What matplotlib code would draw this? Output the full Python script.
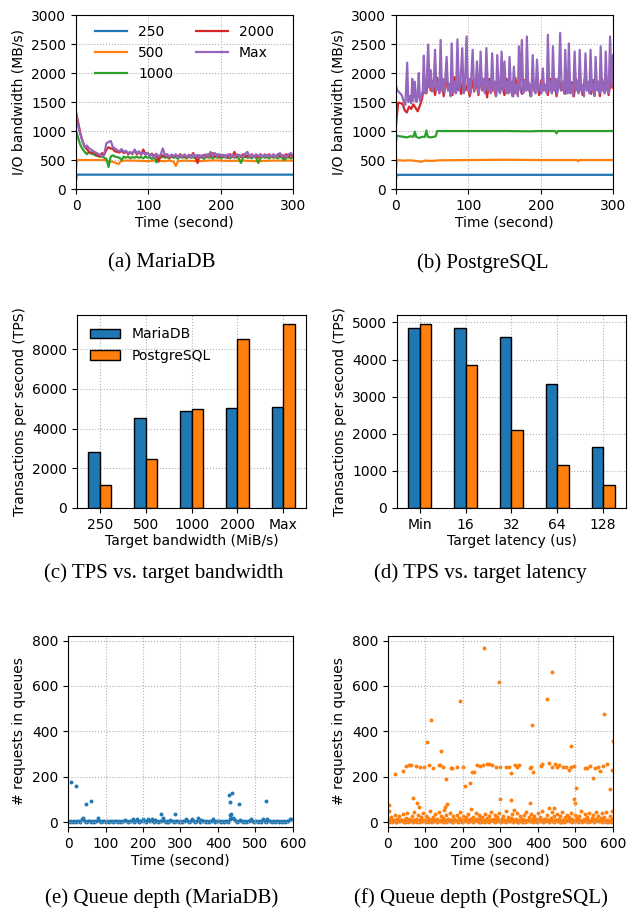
import numpy as np
import matplotlib.pyplot as plt

# --- data: (a) MariaDB I/O bandwidth, sampled every 3 s ---
ma_t = list(range(0, 301, 3))
ma_250_t = [0, 1, 100, 200, 300]
ma_250 = [150, 248, 248, 248, 248]
ma_500_t = [0, 1, 20, 40, 45, 50, 55, 59, 62, 65, 80, 100, 110, 120, 130, 135, 138, 141, 150, 170,
            190, 210, 230, 250, 270, 300]
ma_500 = [350, 500, 500, 500, 480, 470, 450, 430, 480, 490, 490, 480, 495, 480, 490, 470, 400, 480, 490, 480,
          495, 485, 490, 480, 490, 490]
ma_1000 = [1000, 880, 760, 690, 640, 600, 640, 610, 600, 580,
           570, 560, 560, 540, 520, 380, 560, 580, 560, 550,
           540, 500, 560, 540, 560, 530, 550, 540, 560, 540,
           550, 530, 560, 540, 550, 520, 560, 460, 550, 540,
           560, 540, 550, 530, 560, 540, 550, 520, 560, 540,
           550, 530, 560, 540, 550, 530, 560, 540, 550, 520,
           560, 540, 550, 530, 560, 540, 550, 530, 560, 540,
           550, 530, 560, 540, 550, 530, 450, 540, 560, 540,
           550, 530, 560, 540, 450, 530, 560, 540, 550, 530,
           560, 540, 550, 530, 560, 540, 500, 540, 550, 530,
           550]
ma_2000 = [1330, 1150, 960, 830, 730, 690, 640, 620, 650, 600,
           580, 560, 620, 590, 680, 720, 700, 690, 650, 640,
           630, 660, 620, 650, 600, 630, 610, 670, 600, 640,
           590, 680, 600, 620, 580, 610, 570, 600, 470, 590,
           580, 560, 600, 530, 590, 560, 580, 550, 600, 560,
           580, 540, 590, 560, 620, 560, 450, 580, 550, 590,
           560, 600, 570, 620, 560, 600, 550, 590, 560, 580,
           540, 600, 560, 640, 560, 590, 550, 600, 560, 580,
           550, 600, 560, 580, 540, 600, 560, 590, 570, 600,
           550, 590, 560, 600, 570, 580, 550, 600, 560, 590,
           560]
ma_max = [1300, 1080, 940, 820, 720, 750, 700, 680, 650, 630,
          610, 590, 570, 600, 790, 810, 830, 720, 700, 670,
          650, 690, 640, 660, 620, 640, 600, 680, 620, 650,
          600, 630, 590, 620, 570, 600, 540, 610, 560, 590,
          700, 580, 600, 550, 590, 570, 600, 540, 580, 560,
          600, 550, 580, 540, 600, 560, 590, 540, 580, 550,
          600, 560, 640, 570, 620, 560, 600, 570, 590, 550,
          600, 560, 590, 550, 600, 570, 580, 560, 610, 640,
          560, 590, 550, 600, 570, 590, 550, 600, 570, 580,
          560, 600, 550, 590, 620, 560, 590, 550, 600, 620,
          580]

# --- data: (b) PostgreSQL I/O bandwidth ---
pg_t = list(range(0, 301, 3))
pg_250_t = [0, 1, 100, 200, 300]
pg_250 = [180, 245, 245, 245, 245]
pg_500_t = [0, 1, 10, 20, 30, 35, 40, 50, 60, 100, 150, 200, 250, 252, 254, 300]
pg_500 = [350, 500, 490, 495, 480, 470, 490, 485, 495, 500, 505, 500, 500, 480, 500, 500]
pg_1000_t = [0, 1, 5, 10, 15, 20, 24, 26, 28, 32, 36, 40, 42, 44, 48, 52, 55, 57, 100, 150,
             185, 200, 220, 222, 224, 250, 290, 300]
pg_1000 = [820, 920, 910, 900, 890, 910, 900, 990, 900, 880, 900, 900, 1010, 900, 890, 900, 910, 1000, 1000, 1000,
           995, 1000, 1000, 960, 1000, 1000, 1000, 1000]
pg_2000 = [1100, 1490, 1480, 1470, 1360, 1320, 1420, 1380, 1460, 1400,
           1340, 1440, 1550, 1800, 1650, 1900, 1700, 1860, 1620, 1920,
           1680, 1850, 1600, 1900, 1700, 1820, 1620, 1930, 1700, 1850,
           1640, 1920, 1700, 1800, 1600, 1880, 1680, 1850, 1620, 1900,
           1700, 1840, 1580, 1900, 1680, 1820, 1600, 1880, 1700, 1760,
           1620, 1900, 1680, 1840, 1600, 1920, 1700, 1800, 1640, 1880,
           1700, 1850, 1600, 1900, 1680, 1820, 1620, 1880, 1700, 1780,
           1620, 1900, 1680, 1850, 1600, 1920, 1700, 1820, 1640, 1880,
           1700, 1840, 1600, 1900, 1680, 1860, 1620, 1900, 1700, 1800,
           1640, 1880, 1700, 1850, 1600, 1900, 1680, 1820, 1620, 1860,
           1750]
pg_max_pts = [(0, 1780), (2, 1700), (5, 1660), (8, 1620), (11, 1500), (13, 1450), (15.5, 2180), (17, 1500),
              (19, 1600), (21, 1480), (22.5, 1900), (24, 1520), (26, 1850), (28, 1500), (30, 1600),
              (31.5, 2000), (33, 1520), (35, 1600), (37, 1700), (38.5, 2300), (40, 1650), (42, 1700),
              (44.5, 2490), (46.5, 1750), (48, 2050), (50, 1680), (52, 1750), (54, 2400), (56, 1700),
              (58, 1850), (60, 1650), (61.7, 2570), (63.5, 1700), (65, 1900), (67, 1650), (68.5, 1950),
              (70, 2280), (72, 1700), (74, 1780), (75.5, 1600), (77, 2510), (79, 1650), (81, 1850),
              (83, 1650), (85, 2580), (87, 1700), (89, 1800), (91.6, 2430), (93.5, 1650), (95.5, 1800),
              (97.6, 2630), (99.5, 1700), (101, 1900), (103, 1650), (106, 2400), (108, 1700), (110, 1750),
              (112, 2200), (114, 1650), (115.5, 1800), (117, 2370), (119, 1700), (121, 1900), (123, 1650),
              (125, 2430), (127, 1700), (129, 1850), (131, 1650), (133, 2340), (135, 1700), (137, 1850),
              (138.5, 1600), (140, 2310), (142, 1700), (144, 1650), (146, 2370), (148, 1700), (150, 2200),
              (152, 1650), (154, 1850), (155.5, 1650), (157, 2280), (159, 1700), (161, 1600), (163, 2110),
              (165, 1650), (167, 1800), (168.5, 1600), (170, 2460), (172, 1700), (174, 2570), (176, 1650),
              (178, 1850), (179.5, 1700), (181, 2630), (183, 1700), (185, 1800), (187, 1600), (189, 2310),
              (191, 1700), (193, 1650), (195, 2230), (197, 1700), (199, 1800), (201, 1650), (203, 2080),
              (205, 1700), (207, 1800), (208.5, 1650), (210, 2660), (212, 1700), (214, 1850), (215.5, 1650),
              (217, 2460), (219, 1700), (221, 1900), (223, 1650), (225, 1800), (227, 2690), (229, 1700),
              (231, 1850), (232.5, 1650), (234, 2400), (236, 1700), (237.5, 1650), (239, 2510), (241, 1650),
              (243, 1800), (245, 1600), (247, 2370), (249, 1700), (251, 1850), (252.5, 1650), (254, 2400),
              (256, 1700), (258, 1800), (260, 1600), (262, 2340), (264, 1700), (266, 1850), (267.5, 1650),
              (269, 2400), (271, 1700), (273, 1800), (274.5, 1600), (276, 2280), (278, 1700), (280, 1850),
              (281.5, 1650), (283, 2460), (285, 1700), (287, 1800), (288.5, 1650), (290, 2370), (292, 1700),
              (294, 1650), (296, 2630), (298, 1750), (300, 2310)]

# --- data: (c), (d) TPS bars ---
bw_labels = ['250', '500', '1000', '2000', 'Max']
bw_maria = [2800, 4530, 4880, 5030, 5100]
bw_pg = [1160, 2470, 4980, 8490, 9260]
lat_labels = ['Min', '16', '32', '64', '128']
lat_maria = [4860, 4850, 4605, 3335, 1655]
lat_pg = [4955, 3860, 2105, 1160, 620]

# --- data: (e) MariaDB queue depth, base samples every 4 s + outliers ---
qm_t = list(range(0, 600, 4))
qm_base = [3, 2, 5, 1, 4, 2, 6, 3, 1, 15,
           12, 4, 2, 5, 3, 1, 4, 2, 6, 3,
           16, 4, 2, 3, 5, 1, 6, 2, 4, 3,
           2, 5, 3, 1, 4, 2, 6, 3, 10, 4,
           2, 5, 3, 12, 1, 4, 13, 2, 5, 3,
           14, 4, 2, 12, 5, 3, 14, 2, 10, 3,
           2, 4, 5, 16, 3, 2, 4, 1, 10, 3,
           5, 2, 4, 3, 1, 6, 2, 4, 3, 12,
           5, 2, 4, 15, 3, 1, 5, 16, 2, 11,
           3, 5, 2, 4, 1, 3, 6, 15, 2, 4,
           3, 5, 2, 4, 1, 3, 6, 2, 14, 18,
           16, 12, 4, 2, 5, 8, 3, 1, 4, 2,
           6, 3, 12, 4, 2, 5, 3, 1, 4, 2,
           14, 3, 2, 12, 5, 3, 1, 4, 2, 6,
           3, 2, 5, 1, 4, 2, 6, 3, 12, 15]
qm_out_t = [9, 20, 48, 61, 39, 249, 285, 430, 432, 438, 433, 436, 455, 527]
qm_out = [177, 158, 81, 93, 18, 35, 35, 118, 87, 130, 29, 37, 80, 94]

# --- data: (f) PostgreSQL queue depth ---
qp_t1 = list(range(0, 600, 3))
qp_low1 = [50, 12, 5, 22, 3, 8, 30, 2, 15, 6,
           28, 4, 10, 35, 7, 2, 18, 40, 5, 12,
           3, 25, 8, 45, 6, 14, 2, 30, 9, 20,
           4, 38, 11, 6, 25, 3, 16, 48, 7, 2,
           22, 9, 35, 5, 13, 42, 3, 28, 8, 18,
           55, 6, 30, 12, 4, 38, 9, 2, 25, 14,
           7, 32, 3, 18, 45, 6, 11, 28, 4, 20,
           9, 36, 5, 14, 58, 3, 24, 8, 40, 12,
           4, 30, 16, 2, 22, 10, 35, 6, 18, 3,
           26, 8, 42, 5, 12, 30, 3, 20, 9, 38,
           6, 15, 28, 4, 10, 48, 7, 22, 3, 18,
           35, 9, 55, 5, 14, 40, 2, 25, 8, 12,
           3, 30, 11, 45, 6, 20, 4, 35, 9, 16,
           28, 5, 12, 38, 3, 22, 8, 50, 6, 14,
           4, 32, 10, 60, 7, 18, 42, 3, 25, 9,
           36, 6, 15, 28, 2, 45, 11, 20, 5, 30,
           8, 24, 3, 40, 12, 6, 32, 9, 18, 4,
           26, 10, 48, 5, 14, 35, 3, 22, 8, 40,
           6, 18, 30, 4, 12, 42, 7, 25, 3, 16,
           38, 9, 20, 5, 45, 11, 2, 28, 6, 15]
qp_t2 = list(range(2, 600, 4))
qp_low2 = [2, 6, 1, 9, 4, 0, 7, 3, 10, 5,
           1, 8, 3, 0, 6, 11, 2, 5, 9, 4,
           7, 1, 10, 3, 6, 0, 8, 2, 5, 12,
           3, 9, 1, 6, 4, 10, 0, 7, 2, 8,
           5, 11, 3, 1, 9, 6, 2, 8, 4, 0,
           10, 3, 7, 1, 5, 12, 2, 6, 9, 4,
           0, 8, 3, 6, 1, 10, 5, 2, 7, 11,
           4, 1, 9, 3, 6, 0, 8, 5, 2, 10,
           6, 3, 12, 1, 7, 4, 0, 9, 5, 2,
           8, 1, 5, 10, 3, 6, 2, 11, 4, 0,
           7, 3, 9, 1, 6, 12, 4, 2, 8, 5,
           0, 10, 3, 7, 1, 5, 9, 2, 6, 11,
           4, 8, 1, 6, 3, 10, 0, 7, 5, 2,
           9, 3, 11, 1, 6, 4, 8, 2, 12, 5,
           3, 7, 0, 9, 5, 1, 10, 6, 2, 8]
qp_mid_t = [20, 39, 48, 55, 61, 74, 86, 97, 110, 121, 135, 138, 147, 154, 167, 172, 185, 199, 206, 219,
            223, 230, 237, 246, 254, 263, 269, 277, 287, 300, 316, 323, 327, 339, 345, 349, 379, 382, 387, 407,
            410, 430, 438, 445, 450, 457, 467, 476, 482, 487, 495, 501, 526, 531, 540, 547, 553, 560, 566, 574,
            584, 592, 597]
qp_mid = [211, 227, 247, 250, 250, 247, 244, 243, 253, 237, 250, 253, 241, 190, 237, 240, 243, 243, 160, 174,
          222, 222, 253, 246, 250, 255, 256, 252, 243, 243, 241, 243, 218, 253, 243, 252, 239, 243, 222, 246,
          255, 261, 243, 255, 243, 253, 243, 243, 228, 243, 247, 150, 240, 240, 249, 196, 236, 243, 227, 246,
          255, 146, 228]
qp_out_t = [4, 2, 104, 116, 142, 193, 256, 296, 298, 328, 385, 425, 437, 489, 496, 500, 576, 600, 68, 77,
            83, 157, 153, 378, 442, 597]
qp_out = [77, 50, 354, 451, 315, 532, 769, 616, 103, 96, 429, 542, 660, 337, 103, 85, 477, 358, 106, 84,
          66, 81, 66, 84, 60, 48]

plt.rcParams['font.size'] = 10
grid_kw = dict(linestyle=':', color='#b0b0b0', linewidth=0.8)
cap_kw = dict(family='Liberation Serif', fontsize=15, ha='center', va='center')

fig = plt.figure(figsize=(6.35, 9.11), dpi=100)

# --- (a) and (b): bandwidth over time ---
ax_a = fig.add_axes([0.1197, 0.7925, 0.3417, 0.191])
ax_b = fig.add_axes([0.6236, 0.7925, 0.3417, 0.191])

ax_a.plot(ma_250_t, ma_250, color='C0', lw=1.6, label='250')
ax_a.plot(ma_500_t, ma_500, color='C1', lw=1.6, label='500')
ax_a.plot(ma_t, ma_1000, color='C2', lw=1.6, label='1000')
ax_a.plot(ma_t, ma_2000, color='C3', lw=1.6, label='2000')
ax_a.plot(ma_t, ma_max, color='C4', lw=1.6, label='Max')
ax_a.legend(ncol=2, loc='upper center', frameon=False, handlelength=2.3,
            columnspacing=1.6, labelspacing=0.5, borderaxespad=0.3)

pg_max_t = [p[0] for p in pg_max_pts]
pg_max_v = [p[1] for p in pg_max_pts]
ax_b.plot(pg_250_t, pg_250, color='C0', lw=1.6)
ax_b.plot(pg_500_t, pg_500, color='C1', lw=1.6)
ax_b.plot(pg_1000_t, pg_1000, color='C2', lw=1.6)
ax_b.plot(pg_t, pg_2000, color='C3', lw=1.6)
ax_b.plot(pg_max_t, pg_max_v, color='C4', lw=1.6)

for ax in (ax_a, ax_b):
    ax.set_xlim(0, 300)
    ax.set_ylim(0, 3000)
    ax.set_xticks([0, 100, 200, 300])
    ax.set_yticks(range(0, 3001, 500))
    ax.grid(**grid_kw)
    ax.set_xlabel('Time (second)', labelpad=2)
    ax.set_ylabel('I/O bandwidth (MB/s)')

fig.text(0.255, 0.7113, '(a) MariaDB', **cap_kw)
fig.text(0.761, 0.7113, '(b) PostgreSQL', **cap_kw)

# --- (c) and (d): TPS bars ---
ax_c = fig.add_axes([0.1213, 0.4424, 0.3606, 0.2119])
ax_d = fig.add_axes([0.6252, 0.4424, 0.3606, 0.2119])
w = 0.25
x = np.arange(len(bw_labels))
ax_c.bar(x - w / 2, bw_maria, w, color='C0', edgecolor='black', lw=1, label='MariaDB')
ax_c.bar(x + w / 2, bw_pg, w, color='C1', edgecolor='black', lw=1, label='PostgreSQL')
ax_c.set_xticks(x)
ax_c.set_xticklabels(bw_labels)
ax_c.set_yticks(range(0, 8001, 2000))
ax_c.set_xlabel('Target bandwidth (MiB/s)', labelpad=2)
ax_c.legend(loc='upper left', frameon=False, handlelength=2.2, labelspacing=0.55)

ax_d.bar(x - w / 2, lat_maria, w, color='C0', edgecolor='black', lw=1)
ax_d.bar(x + w / 2, lat_pg, w, color='C1', edgecolor='black', lw=1)
ax_d.set_xticks(x)
ax_d.set_xticklabels(lat_labels)
ax_d.set_yticks(range(0, 5001, 1000))
ax_d.set_xlabel('Target latency (us)', labelpad=2)

for ax in (ax_c, ax_d):
    ax.set_xlim(-0.5, 4.5)
    ax.set_axisbelow(True)
    ax.grid(**grid_kw)
    ax.set_ylabel('Transactions per second (TPS)')

fig.text(0.257, 0.371, '(c) TPS vs. target bandwidth', **cap_kw)
fig.text(0.757, 0.371, '(d) TPS vs. target latency', **cap_kw)

# --- (e) and (f): queue depth scatter ---
ax_e = fig.add_axes([0.1071, 0.0922, 0.3543, 0.2097])
ax_f = fig.add_axes([0.611, 0.0922, 0.3543, 0.2097])
ax_e.scatter(qm_t, qm_base, s=8, color='C0', linewidths=0)
ax_e.scatter(qm_out_t, qm_out, s=8, color='C0', linewidths=0)

ax_f.scatter(qp_t1, qp_low1, s=8, color='C1', linewidths=0)
ax_f.scatter(qp_t2, qp_low2, s=8, color='C1', linewidths=0)
ax_f.scatter(qp_mid_t, qp_mid, s=8, color='C1', linewidths=0)
ax_f.scatter(qp_out_t, qp_out, s=8, color='C1', linewidths=0)

for ax in (ax_e, ax_f):
    ax.set_xlim(0, 600)
    ax.set_ylim(-22, 820)
    ax.set_xticks(range(0, 601, 100))
    ax.set_yticks(range(0, 801, 200))
    ax.grid(**grid_kw)
    ax.set_xlabel('Time (second)', labelpad=2)
    ax.set_ylabel('# requests in queues')

fig.text(0.255, 0.0143, '(e) Queue depth (MariaDB)', **cap_kw)
fig.text(0.757, 0.0143, '(f) Queue depth (PostgreSQL)', **cap_kw)

fig.savefig('out.png', dpi=100)
